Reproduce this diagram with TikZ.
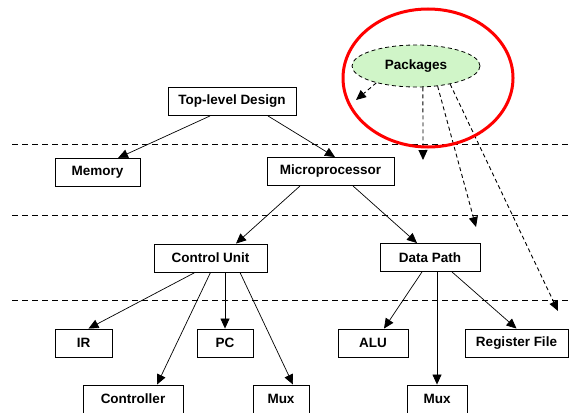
\documentclass[tikz,border=0pt]{standalone}
\usepackage{fontspec}
\setmainfont{Liberation Sans}
\usetikzlibrary{arrows.meta,shapes.geometric}
\definecolor{pkggreen}{RGB}{208,245,200}
\tikzset{
  box/.style={draw=black, line width=0.9pt, fill=white, inner sep=0pt, minimum height=28pt,
    font=\fontsize{13.5}{15}\selectfont\bfseries},
  arr/.style={draw=black, line width=0.7pt, -{Triangle[length=10pt,width=9pt]}},
  parr/.style={draw=black, line width=0.9pt, dash pattern=on 4pt off 3pt, -{Triangle[length=10pt,width=9pt]}},
  sep/.style={draw=black, line width=0.9pt, dash pattern=on 6pt off 4pt},
}
\begin{document}
\begin{tikzpicture}[x=1pt,y=-1pt]
\useasboundingbox (0,0) rectangle (569,412);
% separator lines
\coordinate (s1a) at (12,144); \coordinate (s1b) at (569,144);
\coordinate (s2a) at (12,215); \coordinate (s2b) at (569,215);
\coordinate (s3a) at (12,300); \coordinate (s3b) at (569,300);
\draw[sep] (s1a) -- (s1b);
\draw[sep] (s2a) -- (s2b);
\draw[sep] (s3a) -- (s3b);
% nodes
\node[box, minimum width=128pt] (top) at (232,101.5) {Top-level Design};
\node[box, minimum width=85pt] (mem) at (97.5,172.5) {Memory};
\node[box, minimum width=127pt] (micro) at (330.5,171.5) {Microprocessor};
\node[box, minimum width=113pt] (cu) at (210.5,258) {Control Unit};
\node[box, minimum width=100pt] (dp) at (430,257.5) {Data Path};
\node[box, minimum width=57pt] (ir) at (83.5,343) {IR};
\node[box, minimum width=56pt] (pc) at (225,343) {PC};
\node[box, minimum width=70pt] (alu) at (373,343) {ALU};
\node[box, minimum width=103pt] (rf) at (516.5,343) {Register File};
\node[box, minimum width=100pt] (ctrl) at (133,399) {Controller};
\node[box, minimum width=56pt] (mux1) at (281,399) {Mux};
\node[box, minimum width=60pt] (mux2) at (437,399) {Mux};
% connectors
\draw[arr] ([xshift=-22pt]top.south) -- ([xshift=20.5pt]mem.north);
\draw[arr] ([xshift=36pt]top.south) -- ([xshift=4.5pt]micro.north);
\draw[arr] ([xshift=-30.5pt]micro.south) -- ([xshift=25.5pt]cu.north);
\draw[arr] ([xshift=22.5pt]micro.south) -- ([xshift=-13pt]dp.north);
\draw[arr] ([xshift=-15.5pt]cu.south) -- ([xshift=5pt]ir.north);
\draw[arr] (cu.south) -- ([xshift=24pt]ctrl.north);
\draw[arr] ([xshift=14.5pt]cu.south) -- (pc.north);
\draw[arr] ([xshift=29.5pt]cu.south) -- ([xshift=12pt]mux1.north);
\draw[arr] ([xshift=-8pt]dp.south) -- ([xshift=11pt]alu.north);
\draw[arr] ([xshift=7pt]dp.south) -- (mux2.north);
\draw[arr] ([xshift=22pt]dp.south) -- ([xshift=0pt]rf.north);
% packages
\node[ellipse, draw=black, line width=0.8pt, dash pattern=on 4pt off 3pt, fill=pkggreen,
  minimum width=128pt, minimum height=42pt, inner sep=0pt,
  font=\fontsize{13.5}{15}\selectfont\bfseries] (pkg) at (416,66) {Packages};
\coordinate (p1) at (356,100);
\coordinate (p2) at (423,160);
\coordinate (p3) at (476,227);
\coordinate (p4) at (558,311);
\draw[parr] (pkg.203) -- (p1);
\draw[parr] (pkg.-72) -- (p2);
\draw[parr] (pkg.-43) -- (p3);
\draw[parr] (pkg.-28) -- (p4);
% highlight
\node[ellipse, draw=red, line width=3pt, minimum width=170pt, minimum height=138pt, inner sep=0pt] (hl) at (428,78) {};
\end{tikzpicture}
\end{document}
